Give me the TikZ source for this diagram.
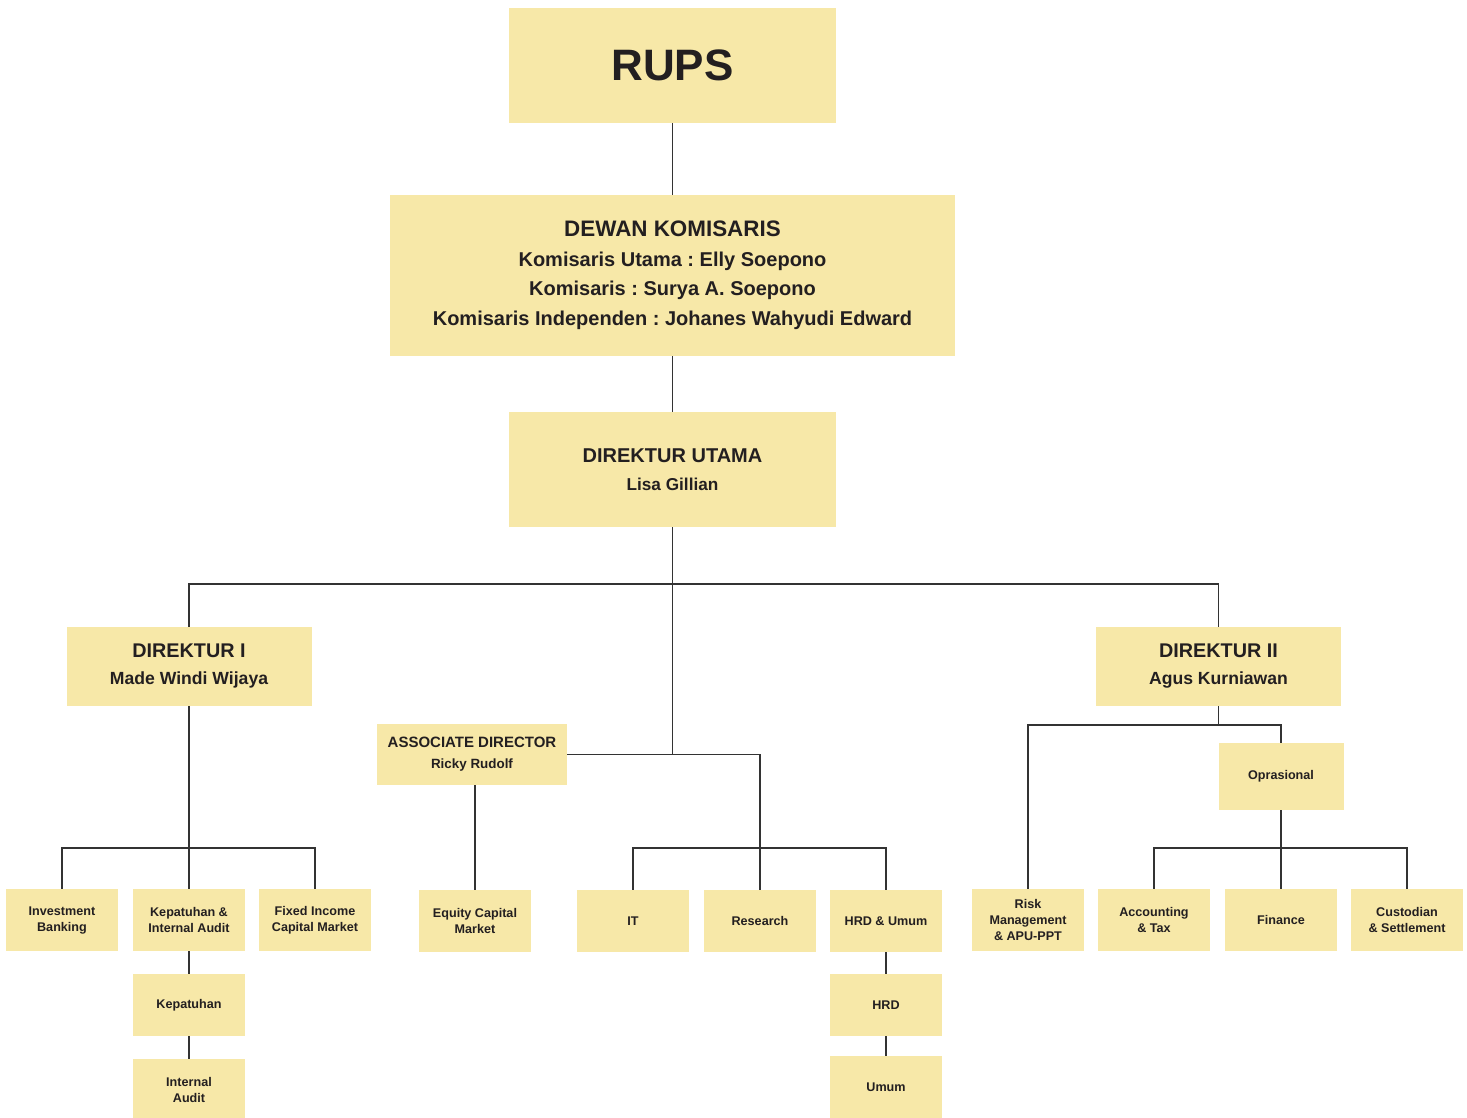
\documentclass[tikz,border=0pt]{standalone}
\usepackage{fontspec}
\setmainfont{Liberation Sans}
\frenchspacing
\definecolor{boxfill}{RGB}{247,232,168}
\definecolor{ink}{RGB}{35,31,32}
\definecolor{linecol}{RGB}{51,51,51}
\tikzset{
  orgbox/.style={fill=boxfill, text=ink, inner sep=0pt, align=center},
  subbox/.style={orgbox, minimum width=56pt, minimum height=31pt, font=\bfseries\fontsize{6.3}{8}\selectfont},
  link/.style={draw=linecol, line width=0.65pt}
}
\begin{document}
\begin{tikzpicture}[x=0.5pt,y=-0.5pt]
\useasboundingbox (0,0) rectangle (1467,1118);
% top levels
\node[orgbox, minimum width=163.5pt, minimum height=57.5pt, font=\bfseries\fontsize{22}{26}\selectfont] (rups) at (672.5,65.5) {RUPS};
\node[orgbox, minimum width=282.5pt, minimum height=80.5pt, font=\bfseries\fontsize{10}{14.75}\selectfont] (dk) at (672.5,275.5)
  {{\fontsize{11.2}{14.75}\selectfont DEWAN KOMISARIS}\\Komisaris Utama : Elly Soepono\\Komisaris : Surya A. Soepono\\Komisaris Independen : Johanes Wahyudi Edward};
\node[orgbox, minimum width=163.5pt, minimum height=57.5pt, font=\bfseries\fontsize{10}{14}\selectfont] (du) at (672.5,469.5)
  {DIREKTUR UTAMA\\{\fontsize{8.6}{14}\selectfont Lisa Gillian}};
% directors
\node[orgbox, minimum width=122.5pt, minimum height=39.5pt, font=\bfseries\fontsize{9.9}{13.5}\selectfont] (d1) at (189,666.5)
  {DIREKTUR I\\{\fontsize{8.8}{13.5}\selectfont Made Windi Wijaya}};
\node[orgbox, minimum width=122.5pt, minimum height=39.5pt, font=\bfseries\fontsize{9.9}{13.5}\selectfont] (d2) at (1218.5,666.5)
  {DIREKTUR II\\{\fontsize{8.8}{13.5}\selectfont Agus Kurniawan}};
\node[orgbox, minimum width=95pt, minimum height=30.5pt, font=\bfseries\fontsize{7.5}{10.5}\selectfont] (ad) at (472,754.5)
  {ASSOCIATE DIRECTOR\\{\fontsize{6.7}{10.5}\selectfont Ricky Rudolf}};
\node[orgbox, minimum width=62.5pt, minimum height=33.5pt, font=\bfseries\fontsize{6.3}{8}\selectfont] (opr) at (1281,776.5) {Oprasional};
% divisions
\node[subbox] (ib) at (62,920) {Investment\\Banking};
\node[subbox] (kia) at (189,920) {Kepatuhan \&\\Internal Audit};
\node[subbox] (fic) at (315,920) {Fixed Income\\Capital Market};
\node[subbox] (kep) at (189,1005) {Kepatuhan};
\node[subbox] (ia) at (189,1090) {Internal\\Audit};
\node[subbox] (ecm) at (475,921) {Equity Capital\\Market};
\node[subbox] (it) at (633,921) {IT};
\node[subbox] (res) at (760,921) {Research};
\node[subbox] (hrdu) at (886,921) {HRD \& Umum};
\node[subbox] (hrd) at (886,1005) {HRD};
\node[subbox] (umum) at (886,1087) {Umum};
\node[subbox] (risk) at (1028,920) {Risk\\Management\\\& APU-PPT};
\node[subbox] (acc) at (1154,920) {Accounting\\\& Tax};
\node[subbox] (fin) at (1281,920) {Finance};
\node[subbox] (cus) at (1407,920) {Custodian\\\& Settlement};
% connectors
\coordinate (busTop) at (672.5,584);
\coordinate (busMid) at (672.5,755);
\coordinate (busD1) at (189,848);
\coordinate (busMid2) at (760,848);
\coordinate (busD2) at (1218.5,725);
\coordinate (busOpr) at (1281,848);
\draw[link] (rups) -- (dk);
\draw[link] (dk) -- (du);
\draw[link] (du.south) -- (busTop) -- (busMid);
\draw[link] (d1.north) |- (busTop) -| (d2.north);
\draw[link] (ad.east) -| (res.north);
\draw[link] (it.north) |- (busMid2) -| (hrdu.north);
\draw[link] (d1.south) -- (kia.north);
\draw[link] (ib.north) |- (busD1) -| (fic.north);
\draw[link] (kia.south) -- (kep.north);
\draw[link] (kep.south) -- (ia.north);
\draw[link] (ad.south-|ecm.north) -- (ecm.north);
\draw[link] (hrdu.south) -- (hrd.north);
\draw[link] (hrd.south) -- (umum.north);
\draw[link] (d2.south) -- (busD2);
\draw[link] (risk.north) |- (busD2) -| (opr.north);
\draw[link] (opr.south) -- (fin.north);
\draw[link] (acc.north) |- (busOpr) -| (cus.north);
\end{tikzpicture}
\end{document}
